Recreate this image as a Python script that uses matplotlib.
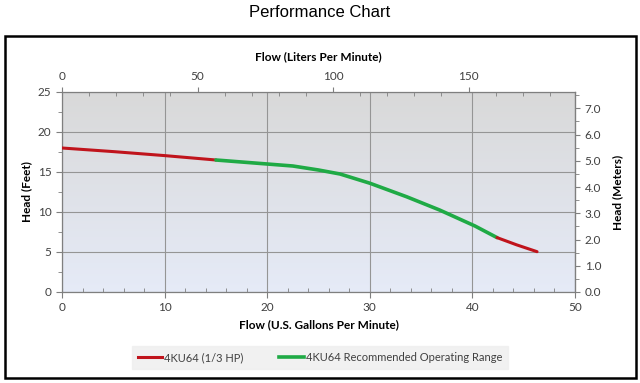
import numpy as np
import matplotlib
matplotlib.use('Agg')
import matplotlib.pyplot as plt
from matplotlib.patches import Rectangle
from matplotlib.lines import Line2D
from matplotlib.ticker import MultipleLocator, FormatStrFormatter

# data (flow in US gpm, head in feet)
red1_gpm = [0, 5, 10, 15]
red1_ft = [18.0, 17.55, 17.05, 16.5]
green_gpm = [15, 20, 22.5, 25, 27.1, 30, 33.6, 36.8, 40.25, 42.4]
green_ft = [16.5, 16.0, 15.75, 15.25, 14.75, 13.6, 11.9, 10.25, 8.25, 6.8]
red2_gpm = [42.4, 44.3, 46.3]
red2_ft = [6.8, 5.9, 5.04]

labels = ['4KU64 (1/3 HP)', '4KU64 Recommended Operating Range']
GAL_TO_L = 3.785
FT_TO_M = 0.3048

plt.rcParams['font.family'] = ['Lato', 'DejaVu Sans']

fig = plt.figure(figsize=(6.4, 3.83), dpi=100)
fig.patch.set_facecolor('white')

# outer frame
fig.add_artist(Rectangle((5 / 640, 5 / 383), 631 / 640, 342 / 383,
                         transform=fig.transFigure, fill=False,
                         edgecolor='black', linewidth=1.8))
fig.text(0.5, 0.968, 'Performance Chart', ha='center', va='center',
         fontsize=12, family='Liberation Sans')

ax = fig.add_axes([62 / 640, 91 / 383, 513 / 640, 200 / 383])

# gradient background
grad = np.linspace(0, 1, 256)[:, None]
top = np.array([0.85, 0.85, 0.85])
bot = np.array([0.90, 0.92, 0.97])
img = top + (bot - top) * grad[..., None]
ax.imshow(img, extent=[0, 1, 0, 1], transform=ax.transAxes,
          aspect='auto', zorder=0)

ax.set_xlim(0, 50)
ax.set_ylim(0, 25)
ax.xaxis.set_major_locator(MultipleLocator(10))
ax.xaxis.set_minor_locator(MultipleLocator(2))
ax.yaxis.set_major_locator(MultipleLocator(5))
ax.yaxis.set_minor_locator(MultipleLocator(2.5))
ax.grid(True, which='major', color='#959595', linewidth=0.8, zorder=1)
ax.set_axisbelow(True)

for s in ax.spines.values():
    s.set_color('#7f7f7f')
    s.set_linewidth(0.9)
ax.tick_params(axis='both', which='both', colors='#7f7f7f', labelcolor='#404040',
               labelsize=8.5)
ax.tick_params(axis='x', which='minor', direction='in', length=3)
ax.tick_params(axis='y', which='minor', direction='out', length=3)
ax.tick_params(which='major', length=4)

ax.plot(red1_gpm, red1_ft, color='#c0141c', linewidth=2.2, zorder=3,
        solid_capstyle='round')
ax.plot(green_gpm, green_ft, color='#1faa45', linewidth=2.6, zorder=3,
        solid_capstyle='round', solid_joinstyle='round')
ax.plot(red2_gpm, red2_ft, color='#c0141c', linewidth=2.2, zorder=3,
        solid_capstyle='round')

ax.set_xlabel('Flow (U.S. Gallons Per Minute)', fontsize=8.5, fontweight='bold',
              labelpad=4)
ax.set_ylabel('Head (Feet)', fontsize=8.5, fontweight='bold', labelpad=4)

# top axis: liters per minute
ax_top = ax.secondary_xaxis('top', functions=(lambda g: g * GAL_TO_L,
                                                lambda l: l / GAL_TO_L))
ax_top.xaxis.set_major_locator(MultipleLocator(50))
ax_top.xaxis.set_minor_locator(MultipleLocator(10))
ax_top.tick_params(which='both', colors='#7f7f7f', labelcolor='#404040', labelsize=8.5)
ax_top.tick_params(which='minor', direction='in', length=3)
ax_top.spines['top'].set_visible(False)
ax_top.set_xlabel('Flow (Liters Per Minute)', fontsize=8.5, fontweight='bold',
                  labelpad=8)

# right axis: meters
ax_r = ax.secondary_yaxis('right', functions=(lambda f: f * FT_TO_M,
                                                lambda m: m / FT_TO_M))
ax_r.yaxis.set_major_locator(MultipleLocator(1))
ax_r.yaxis.set_minor_locator(MultipleLocator(0.5))
ax_r.yaxis.set_major_formatter(FormatStrFormatter('%.1f'))
ax_r.tick_params(which='both', colors='#7f7f7f', labelcolor='#404040', labelsize=8.5)
ax_r.tick_params(which='minor', length=3)
ax_r.spines['right'].set_color('#7f7f7f')
ax_r.set_ylabel('Head (Meters)', fontsize=8.5, fontweight='bold', labelpad=8)

# legend box
handles = [Line2D([], [], color='#c0141c', linewidth=2.2),
           Line2D([], [], color='#1faa45', linewidth=2.6)]
leg = fig.legend(handles, labels, loc='center', bbox_to_anchor=(0.5, 0.067),
                 ncol=2, frameon=True, fontsize=8, handlelength=2.2,
                 handletextpad=0.2, columnspacing=3.2, borderpad=0.55,
                 fancybox=False)
leg.get_frame().set_facecolor('#eeeeee')
leg.get_frame().set_edgecolor('#eeeeee')
for t in leg.get_texts():
    t.set_color('#404040')

fig.savefig('out.png', dpi=100)
